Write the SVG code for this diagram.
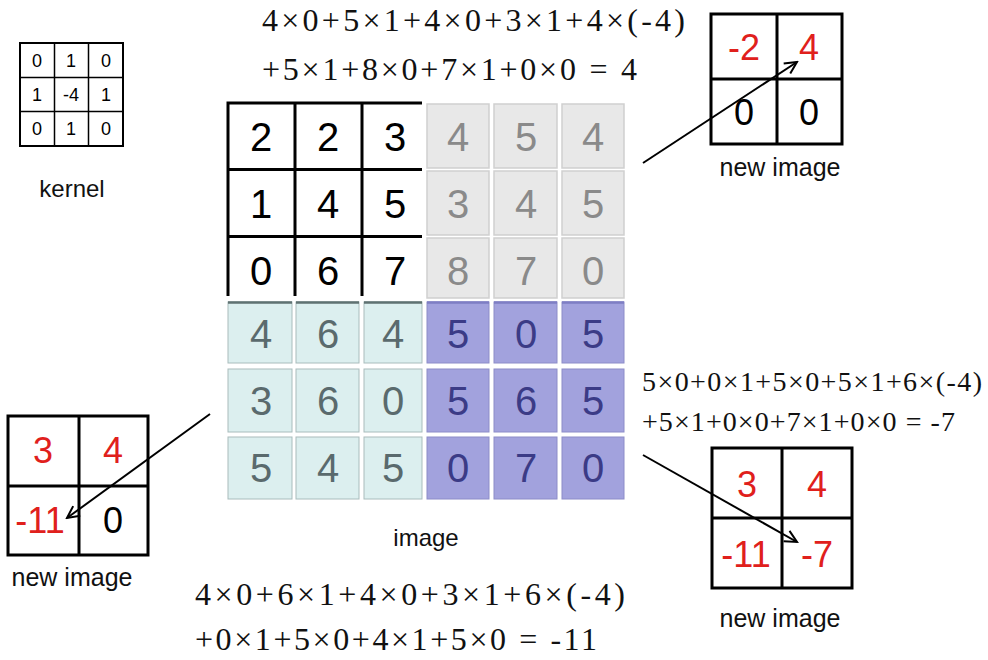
<svg xmlns="http://www.w3.org/2000/svg" width="988" height="660" viewBox="0 0 988 660">
<style>
  .sans { font-family: "Liberation Sans", Arial, sans-serif; }
  .serif { font-family: "Liberation Serif", "Times New Roman", serif; }
  .big { font-size: 40px; text-anchor: middle; }
  .nd { font-size: 36px; text-anchor: middle; }
  .kd { font-size: 18px; text-anchor: middle; fill: #000; }
  .lbl { font-size: 24px; text-anchor: middle; fill: #111; }
  .eq { font-size: 32px; fill: #111; }
  .eqs { font-size: 28px; fill: #111; }
  .red { fill: #e0201c; }
  .blk { fill: #000; }
  .gcell { fill: #e8e8e8; stroke: #cfcfcf; stroke-width: 1.5; }
  .tcell { fill: #dcefef; stroke: #a9bcbc; stroke-width: 1; }
  .pcell { fill: #a2a2dd; stroke: #8c8cc8; stroke-width: 1; }
  .gt { fill: #8a8a8a; }
  .tt { fill: #5a6a6d; }
  .pt { fill: #3b3b86; }
  .grid { stroke: #000; stroke-width: 3; fill: none; }
  .box { stroke: #000; stroke-width: 3; fill: #fff; }
  .kline { stroke: #000; stroke-width: 1.5; fill: none; }
  .conn { stroke: #000; stroke-width: 2; fill: none; marker-end: url(#arr); }
</style>
<defs>
  <marker id="arr" markerUnits="userSpaceOnUse" markerWidth="16" markerHeight="16" viewBox="0 0 16 16" refX="14" refY="8" orient="auto">
    <path d="M2,2 L14,8 L2,14" fill="none" stroke="#000" stroke-width="2"/>
  </marker>
</defs>
<rect width="988" height="660" fill="#fff"/>

<g id="kernel">
  <rect x="20" y="43" width="103" height="103" fill="#fff" stroke="#000" stroke-width="2"/>
  <path class="kline" d="M54.5,43 V146 M88.5,43 V146 M20,77.5 H123 M20,111.5 H123"/>
  <text class="sans kd" x="37" y="67">0</text>
  <text class="sans kd" x="71" y="67">1</text>
  <text class="sans kd" x="106" y="67">0</text>
  <text class="sans kd" x="37" y="101">1</text>
  <text class="sans kd" x="71" y="101">-4</text>
  <text class="sans kd" x="106" y="101">1</text>
  <text class="sans kd" x="37" y="135">0</text>
  <text class="sans kd" x="71" y="135">1</text>
  <text class="sans kd" x="106" y="135">0</text>
  <text class="sans lbl" x="72" y="197">kernel</text>
</g>

<g id="image">
  <rect class="gcell" x="427" y="104" width="62" height="64"/>
  <rect class="gcell" x="494" y="104" width="63" height="64"/>
  <rect class="gcell" x="562" y="104" width="62" height="64"/>
  <rect class="gcell" x="427" y="171" width="62" height="64"/>
  <rect class="gcell" x="494" y="171" width="63" height="64"/>
  <rect class="gcell" x="562" y="171" width="62" height="64"/>
  <rect class="gcell" x="427" y="238" width="62" height="60"/>
  <rect class="gcell" x="494" y="238" width="63" height="60"/>
  <rect class="gcell" x="562" y="238" width="62" height="60"/>
  <rect class="tcell" x="228" y="302" width="64" height="61"/>
  <rect class="tcell" x="296" y="302" width="63" height="61"/>
  <rect class="tcell" x="364" y="302" width="58" height="61"/>
  <rect class="tcell" x="228" y="369" width="64" height="63"/>
  <rect class="tcell" x="296" y="369" width="63" height="63"/>
  <rect class="tcell" x="364" y="369" width="58" height="63"/>
  <rect class="tcell" x="228" y="437" width="64" height="62"/>
  <rect class="tcell" x="296" y="437" width="63" height="62"/>
  <rect class="tcell" x="364" y="437" width="58" height="62"/>
  <path d="M228,302.5 H292 M296,302.5 H359 M364,302.5 H422" stroke="#5f7272" stroke-width="2.5"/>
  <rect class="pcell" x="427" y="302" width="62" height="61"/>
  <rect class="pcell" x="494" y="302" width="63" height="61"/>
  <rect class="pcell" x="562" y="302" width="62" height="61"/>
  <rect class="pcell" x="427" y="369" width="62" height="63"/>
  <rect class="pcell" x="494" y="369" width="63" height="63"/>
  <rect class="pcell" x="562" y="369" width="62" height="63"/>
  <rect class="pcell" x="427" y="437" width="62" height="62"/>
  <rect class="pcell" x="494" y="437" width="63" height="62"/>
  <rect class="pcell" x="562" y="437" width="62" height="62"/>
  <path d="M427,302.5 H489 M494,302.5 H557 M562,302.5 H624" stroke="#7e7ec4" stroke-width="2.5"/>
  <path class="grid" d="M226.5,103 H422 M228,103 V296 M295,103 V296 M362,103 V296 M228,169.5 H422 M228,236.5 H422"/>

  <text class="sans big blk" x="261" y="151">2</text>
  <text class="sans big blk" x="328" y="151">2</text>
  <text class="sans big blk" x="395" y="151">3</text>
  <text class="sans big gt" x="458" y="151">4</text>
  <text class="sans big gt" x="526" y="151">5</text>
  <text class="sans big gt" x="593" y="151">4</text>

  <text class="sans big blk" x="261" y="218">1</text>
  <text class="sans big blk" x="328" y="218">4</text>
  <text class="sans big blk" x="395" y="218">5</text>
  <text class="sans big gt" x="458" y="218">3</text>
  <text class="sans big gt" x="526" y="218">4</text>
  <text class="sans big gt" x="593" y="218">5</text>

  <text class="sans big blk" x="261" y="285">0</text>
  <text class="sans big blk" x="328" y="285">6</text>
  <text class="sans big blk" x="395" y="285">7</text>
  <text class="sans big gt" x="458" y="285">8</text>
  <text class="sans big gt" x="526" y="285">7</text>
  <text class="sans big gt" x="593" y="285">0</text>

  <text class="sans big tt" x="261" y="348">4</text>
  <text class="sans big tt" x="328" y="348">6</text>
  <text class="sans big tt" x="393" y="348">4</text>
  <text class="sans big pt" x="458" y="348">5</text>
  <text class="sans big pt" x="526" y="348">0</text>
  <text class="sans big pt" x="593" y="348">5</text>

  <text class="sans big tt" x="261" y="415">3</text>
  <text class="sans big tt" x="328" y="415">6</text>
  <text class="sans big tt" x="393" y="415">0</text>
  <text class="sans big pt" x="458" y="415">5</text>
  <text class="sans big pt" x="526" y="415">6</text>
  <text class="sans big pt" x="593" y="415">5</text>

  <text class="sans big tt" x="261" y="482">5</text>
  <text class="sans big tt" x="328" y="482">4</text>
  <text class="sans big tt" x="393" y="482">5</text>
  <text class="sans big pt" x="458" y="482">0</text>
  <text class="sans big pt" x="526" y="482">7</text>
  <text class="sans big pt" x="593" y="482">0</text>

  <text class="sans lbl" x="426" y="546">image</text>
</g>

<g id="new-image-top">
  <rect class="box" x="711" y="14" width="131" height="130"/>
  <path class="grid" d="M777,14 V144 M711,79 H842"/>
  <text class="sans nd red" x="744" y="60">-2</text>
  <text class="sans nd red" x="809" y="60">4</text>
  <text class="sans nd blk" x="744" y="125">0</text>
  <text class="sans nd blk" x="809" y="125">0</text>
  <text class="sans lbl" x="780" y="176" style="font-size:25px">new image</text>
</g>

<g id="new-image-left">
  <rect class="box" x="8" y="416" width="140" height="139"/>
  <path class="grid" d="M79,416 V555 M8,486 H148"/>
  <text class="sans nd red" x="43" y="463">3</text>
  <text class="sans nd red" x="113" y="463">4</text>
  <text class="sans nd red" x="40" y="533">-11</text>
  <text class="sans nd blk" x="113" y="533">0</text>
  <text class="sans lbl" x="72" y="586" style="font-size:25px">new image</text>
</g>

<g id="new-image-right">
  <rect class="box" x="712" y="448" width="140" height="140"/>
  <path class="grid" d="M782,448 V588 M712,518 H852"/>
  <text class="sans nd red" x="747" y="497">3</text>
  <text class="sans nd red" x="817" y="497">4</text>
  <text class="sans nd red" x="746" y="567">-11</text>
  <text class="sans nd red" x="817" y="567">-7</text>
  <text class="sans lbl" x="780" y="627" style="font-size:25px">new image</text>
</g>

<g id="equations">
  <text class="serif eq" x="262" y="31" textLength="423" lengthAdjust="spacing">4×0+5×1+4×0+3×1+4×(-4)</text>
  <text class="serif eq" x="262" y="80" textLength="375" lengthAdjust="spacing">+5×1+8×0+7×1+0×0 = 4</text>
  <text class="serif eqs" x="642" y="391" textLength="340" lengthAdjust="spacing">5×0+0×1+5×0+5×1+6×(-4)</text>
  <text class="serif eqs" x="642" y="431" textLength="313" lengthAdjust="spacing">+5×1+0×0+7×1+0×0 = -7</text>
  <text class="serif eq" x="195" y="605" textLength="430" lengthAdjust="spacing">4×0+6×1+4×0+3×1+6×(-4)</text>
  <text class="serif eq" x="195" y="650" textLength="402" lengthAdjust="spacing">+0×1+5×0+4×1+5×0 = -11</text>
</g>

<g id="connectors">
  <line class="conn" x1="643" y1="163" x2="797" y2="62"/>
  <line class="conn" x1="210" y1="414" x2="67" y2="518"/>
  <line class="conn" x1="643" y1="455" x2="797" y2="542"/>
</g>
</svg>
